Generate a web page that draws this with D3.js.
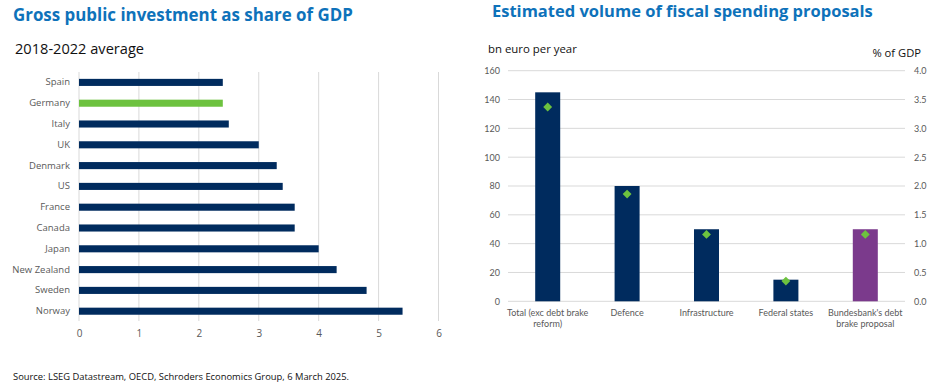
<!DOCTYPE html>
<html>
<head>
<meta charset="utf-8">
<script src="https://cdn.jsdelivr.net/npm/d3@7"></script>
<style>
	body { margin: 0; background: #fff; }
	svg { display: block; }
	.title { font-family: "Open Sans", sans-serif; font-weight: 700; fill: #0E72BA; }
	.tick text { fill: #595959; }
	.domain { display: none; }
</style>
</head>
<body>
<svg id="chart" width="940" height="389"></svg>
<script>
// left panel: gross public investment, % of GDP, 2018-2022 average
var countries = ['Spain', 'Germany', 'Italy', 'UK', 'Denmark', 'US', 'France', 'Canada', 'Japan', 'New Zealand', 'Sweden', 'Norway'];
var investment = [2.4, 2.4, 2.5, 3.0, 3.3, 3.4, 3.6, 3.6, 4.0, 4.3, 4.8, 5.4];
var investTicks = [0, 1, 2, 3, 4, 5, 6];

// right panel: fiscal spending proposals
var proposals = ['Total (exc debt brake reform)', 'Defence', 'Infrastructure', 'Federal states', "Bundesbank's debt brake proposal"];
var proposalLines = [['Total (exc debt brake', 'reform)'], ['Defence'], ['Infrastructure'], ['Federal states'], ["Bundesbank's debt", 'brake proposal']];
var bnEuro = [145, 80, 50, 15, 50];
var pctGdp = [3.37, 1.86, 1.16, 0.35, 1.16];
var bnTicks = [0, 20, 40, 60, 80, 100, 120, 140, 160];
var pctTicks = [0, 0.5, 1, 1.5, 2, 2.5, 3, 3.5, 4];

var navy = '#002B5E', green = '#6DC23F', purple = '#7B3A8C', grid = '#D9D9D9';
var svg = d3.select('#chart');

// ---- left chart ----
svg.append('text').attr('class', 'title')
	.attr('x', 13).attr('y', 21).style('font-size', '16.9px')
	.text('Gross public investment as share of GDP');
svg.append('text')
	.attr('x', 15).attr('y', 54)
	.style('font-family', '"Open Sans", sans-serif').style('font-size', '14.6px').attr('fill', '#111')
	.text('2018-2022 average');

var x1 = d3.scaleLinear().domain([0, 6]).range([79, 438.5]);
var y1 = d3.scaleBand().domain(countries).range([72, 321.6]).paddingInner(0.66).paddingOuter(0.33);

var gx1 = svg.append('g')
	.attr('transform', 'translate(0,321)')
	.call(d3.axisBottom(x1).tickValues(investTicks).tickFormat(d3.format('d')).tickSize(0).tickPadding(9));
gx1.selectAll('.tick text').style('font-family', '"Open Sans", sans-serif').style('font-size', '10px');

svg.append('g').selectAll('line')
	.data(investTicks)
	.join('line')
		.attr('x1', function(d) { return x1(d); })
		.attr('x2', function(d) { return x1(d); })
		.attr('y1', 72).attr('y2', 321)
		.attr('stroke', grid).attr('stroke-width', 1);

var gy1 = svg.append('g')
	.attr('transform', 'translate(79,0)')
	.call(d3.axisLeft(y1).tickSize(0).tickPadding(9));
gy1.selectAll('.tick text').style('font-family', '"Open Sans", sans-serif').style('font-size', '9.5px');

svg.append('g').selectAll('rect')
	.data(countries)
	.join('rect')
		.attr('x', x1(0))
		.attr('y', function(d) { return y1(d); })
		.attr('width', function(d, i) { return x1(investment[i]) - x1(0); })
		.attr('height', y1.bandwidth())
		.attr('fill', function(d) { return d === 'Germany' ? green : navy; });

// ---- right chart ----
svg.append('text').attr('class', 'title')
	.attr('x', 492).attr('y', 17).style('font-size', '16.5px')
	.text('Estimated volume of fiscal spending proposals');
svg.append('text')
	.attr('x', 488).attr('y', 53)
	.style('font-family', '"Open Sans", sans-serif').style('font-size', '11.4px').attr('fill', '#111')
	.text('bn euro per year');
svg.append('text')
	.attr('x', 921).attr('y', 57).attr('text-anchor', 'end')
	.style('font-family', '"Open Sans", sans-serif').style('font-size', '11.2px').attr('fill', '#111')
	.text('% of GDP');

var x2 = d3.scaleBand().domain(proposals).range([508, 905]).paddingInner(0.685).paddingOuter(0.3425);
var yL = d3.scaleLinear().domain([0, 160]).range([301.3, 70.7]);
var yR = d3.scaleLinear().domain([0, 4]).range([301.3, 70.7]);

svg.append('g').selectAll('line')
	.data(bnTicks)
	.join('line')
		.attr('x1', 508).attr('x2', 905)
		.attr('y1', function(d) { return yL(d); })
		.attr('y2', function(d) { return yL(d); })
		.attr('stroke', grid).attr('stroke-width', 1);

var gL = svg.append('g')
	.attr('transform', 'translate(508,0)')
	.call(d3.axisLeft(yL).tickValues(bnTicks).tickSize(0).tickPadding(8));
gL.selectAll('.tick text').style('font-family', '"Lato", sans-serif').style('font-size', '9px');

var gR = svg.append('g')
	.attr('transform', 'translate(905,0)')
	.call(d3.axisRight(yR).tickValues(pctTicks).tickFormat(d3.format('.1f')).tickSize(0).tickPadding(9));
gR.selectAll('.tick text').style('font-family', '"Lato", sans-serif').style('font-size', '9px');

svg.append('g').selectAll('rect')
	.data(proposals)
	.join('rect')
		.attr('x', function(d) { return x2(d); })
		.attr('y', function(d, i) { return yL(bnEuro[i]); })
		.attr('width', x2.bandwidth())
		.attr('height', function(d, i) { return yL(0) - yL(bnEuro[i]); })
		.attr('fill', function(d, i) { return i === 4 ? purple : navy; });

svg.append('g').selectAll('path')
	.data(proposals)
	.join('path')
		.attr('d', d3.symbol(d3.symbolDiamond2, 50))
		.attr('transform', function(d, i) {
			return 'translate(' + (x2(d) + x2.bandwidth() / 2) + ',' + yR(pctGdp[i]) + ')';
		})
		.attr('fill', green);

var labels = svg.append('g')
	.style('font-family', '"Lato", sans-serif').style('font-size', '9px').attr('fill', '#595959');
proposals.forEach(function(p, i) {
	var t = labels.append('text')
		.attr('x', x2(p) + x2.bandwidth() / 2)
		.attr('y', 316)
		.attr('text-anchor', 'middle');
	proposalLines[i].forEach(function(line, j) {
		t.append('tspan').attr('x', x2(p) + x2.bandwidth() / 2).attr('dy', j === 0 ? 0 : 11).text(line);
	});
});

// ---- source ----
svg.append('text')
	.attr('x', 13).attr('y', 380)
	.style('font-family', '"Open Sans", sans-serif').style('font-size', '9.4px').attr('fill', '#111')
	.text('Source: LSEG Datastream, OECD, Schroders Economics Group, 6 March 2025.');
</script>
</body>
</html>
